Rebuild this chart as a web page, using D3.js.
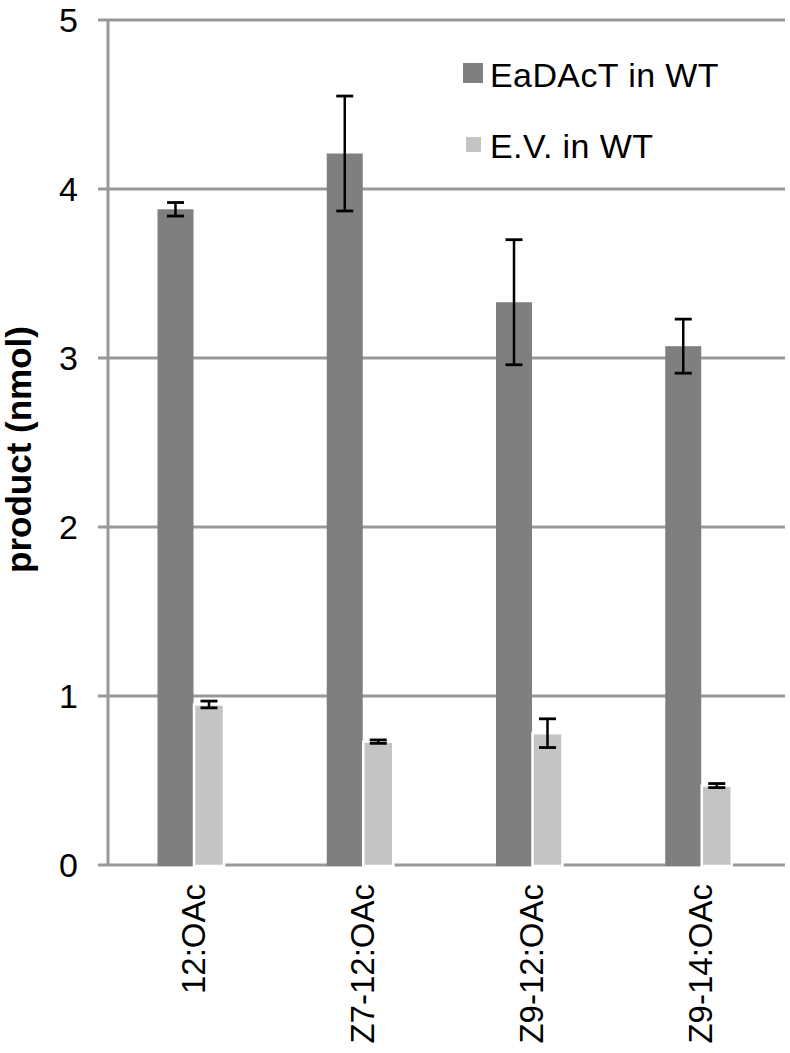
<!DOCTYPE html>
<html>
<head>
<meta charset="utf-8">
<script src="https://cdn.jsdelivr.net/npm/d3@7"></script>
<style>
  html, body { margin: 0; padding: 0; background: #fff; }
  svg { display: block; font-family: "Liberation Sans", Arial, sans-serif; }
</style>
</head>
<body>
<svg id="chart" width="790" height="1053"></svg>
<script>
const categories = ["12:OAc", "Z7-12:OAc", "Z9-12:OAc", "Z9-14:OAc"];
const seriesNames = ["EaDAcT in WT", "E.V. in WT"];
const eadactValues = [3.88, 4.21, 3.33, 3.07];
const eadactErrors = [0.04, 0.34, 0.37, 0.16];
const evValues = [0.95, 0.73, 0.78, 0.47];
const evErrors = [0.02, 0.01, 0.085, 0.012];
const yTicks = [0, 1, 2, 3, 4, 5];
const yTitle = "product (nmol)";

const colors = { "EaDAcT in WT": "#7f7f7f", "E.V. in WT": "#c4c4c4" };
const barWidths = { "EaDAcT in WT": 36, "E.V. in WT": 30 };

const svg = d3.select("#chart");
const mLeft = 108, mRight = 785, mTop = 20, mBottom = 865;

const x0 = d3.scaleBand().domain(categories).range([mLeft, mRight]);
const x1 = d3.scaleBand().domain(seriesNames).range([49.5, 123.5]);
const y = d3.scaleLinear().domain([0, 5]).range([mBottom, mTop]);

// gridlines
svg.append("g").selectAll("line").data(yTicks).join("line")
  .attr("x1", mLeft - 10).attr("x2", mRight)
  .attr("y1", d => y(d)).attr("y2", d => y(d))
  .attr("stroke", "#999").attr("stroke-width", 3);

// y axis line
svg.append("line").attr("x1", mLeft).attr("x2", mLeft)
  .attr("y1", mTop).attr("y2", mBottom)
  .attr("stroke", "#999").attr("stroke-width", 3);

// y tick labels
svg.append("g").selectAll("text").data(yTicks).join("text")
  .attr("x", 78).attr("y", d => y(d)).attr("dy", "0.36em")
  .attr("text-anchor", "end").attr("font-size", 34).attr("fill", "#000")
  .text(d => d);

// y title
svg.append("text")
  .attr("transform", `translate(31,${(mTop + mBottom) / 2 + 7}) rotate(-90)`)
  .attr("text-anchor", "middle").attr("font-size", 35).attr("font-weight", "bold")
  .attr("fill", "#000").text(yTitle);

const data = categories.map((c, i) => ({
  cat: c,
  vals: [
    { s: seriesNames[0], v: eadactValues[i], e: eadactErrors[i] },
    { s: seriesNames[1], v: evValues[i], e: evErrors[i] }
  ]
}));

const groups = svg.append("g").selectAll("g").data(data).join("g")
  .attr("transform", d => `translate(${x0(d.cat)},0)`);

// bar left edge: dark bar at x1 start, light bar overlaps slightly toward the dark one
const bx = d => d.s === seriesNames[0] ? x1(d.s) : x1(d.s) - 0.5;

groups.selectAll("rect").data(d => d.vals).join("rect")
  .attr("x", bx)
  .attr("width", d => barWidths[d.s])
  .attr("y", d => y(d.v))
  .attr("height", d => y(0) - y(d.v) + 1)
  .attr("fill", d => colors[d.s])
  .attr("stroke", d => d.s === seriesNames[1] ? "#fff" : "none")
  .attr("stroke-width", 2.5);

// error bars
const eb = groups.selectAll("g.err").data(d => d.vals).join("g").attr("class", "err");
const cx = d => bx(d) + barWidths[d.s] / 2;
eb.append("line")
  .attr("x1", cx).attr("x2", cx)
  .attr("y1", d => y(d.v + d.e)).attr("y2", d => y(d.v - d.e))
  .attr("stroke", "#000").attr("stroke-width", 2.5);
eb.append("line")
  .attr("x1", d => cx(d) - 8.5).attr("x2", d => cx(d) + 8.5)
  .attr("y1", d => y(d.v + d.e)).attr("y2", d => y(d.v + d.e))
  .attr("stroke", "#000").attr("stroke-width", 2.8);
eb.append("line")
  .attr("x1", d => cx(d) - 8.5).attr("x2", d => cx(d) + 8.5)
  .attr("y1", d => y(d.v - d.e)).attr("y2", d => y(d.v - d.e))
  .attr("stroke", "#000").attr("stroke-width", 2.8);

// x labels
svg.append("g").selectAll("text").data(categories).join("text")
  .attr("transform", d => `translate(${x0(d) + x0.bandwidth() / 2},884) rotate(-90)`)
  .attr("dy", "0.36em")
  .attr("text-anchor", "end").attr("font-size", 33).attr("fill", "#000")
  .text(d => d);

// legend
const legend = svg.append("g");
legend.selectAll("rect").data(seriesNames).join("rect")
  .attr("x", (d, i) => i === 0 ? 463 : 466)
  .attr("y", (d, i) => i === 0 ? 63 : 137)
  .attr("width", (d, i) => i === 0 ? 20 : 15)
  .attr("height", (d, i) => i === 0 ? 20 : 15)
  .attr("fill", d => colors[d]);
legend.selectAll("text").data(seriesNames).join("text")
  .attr("x", 490).attr("y", (d, i) => i === 0 ? 87 : 158)
  .attr("font-size", 34).attr("letter-spacing", 0.4).attr("fill", "#000")
  .text(d => d);
</script>
</body>
</html>
